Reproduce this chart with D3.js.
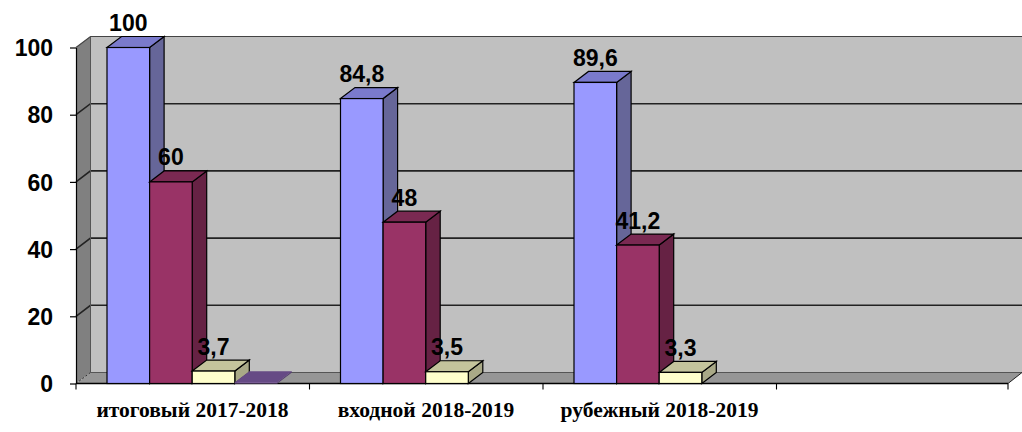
<!DOCTYPE html>
<html>
<head>
<meta charset="utf-8">
<script src="https://cdn.jsdelivr.net/npm/d3@7"></script>
<style>
  html, body { margin: 0; padding: 0; background: #fff; }
  svg { display: block; }
  .val { font: bold 23px "Liberation Sans", Arial, sans-serif; fill: #000; }
  .cat { font: bold 21.5px "Liberation Serif", "Times New Roman", serif; fill: #000; }
</style>
</head>
<body>
<div id="chart"></div>
<script>
const categories = ["итоговый 2017-2018", "входной 2018-2019", "рубежный 2018-2019", ""];
const seriesA = [100, 84.8, 89.6, null];
const seriesB = [60, 48, 41.2, null];
const seriesC = [3.7, 3.5, 3.3, null];
const seriesD = [0.4, null, null, null];
const yTicks = [0, 20, 40, 60, 80, 100];
const labelsA = ["100", "84,8", "89,6"];
const labelsB = ["60", "48", "41,2"];
const labelsC = ["3,7", "3,5", "3,3"];

const svgWidth = 1022, svgHeight = 432;
const plotLeft = 76, plotRight = 1008, plotTop = 47.5, plotBottom = 383.5;
const dx = 14.5, dy = -11; // 3d depth

const svg = d3.select("#chart").append("svg")
  .attr("width", svgWidth)
  .attr("height", svgHeight);

const x = d3.scaleBand().domain(d3.range(categories.length)).range([plotLeft, plotLeft + 934]);
const y = d3.scaleLinear().domain([0, 100]).range([plotBottom, plotTop]);
const sub = d3.scaleBand().domain(d3.range(4)).range([31, 31 + 4 * 42.6]);

const poly = (pts, fill, stroke, sw) => svg.append("polygon")
  .attr("points", pts.map(p => p.join(",")).join(" "))
  .attr("fill", fill)
  .attr("stroke", stroke || "none")
  .attr("stroke-width", sw || 0);

// walls and floor
poly([[plotLeft + dx, plotTop + dy], [svgWidth, plotTop + dy], [svgWidth, plotBottom + dy], [plotLeft + dx, plotBottom + dy]], "#c0c0c0");
poly([[plotLeft, plotTop], [plotLeft + dx, plotTop + dy], [plotLeft + dx, plotBottom + dy], [plotLeft, plotBottom]], "#808080");
poly([[plotLeft, plotBottom], [plotLeft + dx, plotBottom + dy], [svgWidth, plotBottom + dy], [plotRight, plotBottom]], "#969696");

// gridlines on the side and back walls
yTicks.forEach(t => {
  if (t === 0) return;
  svg.append("path")
    .attr("d", `M${plotLeft},${y(t)}L${plotLeft + dx},${y(t) + dy}L${svgWidth},${y(t) + dy}`)
    .attr("fill", "none")
    .attr("stroke", t === 100 ? "#444" : "#222")
    .attr("stroke-width", t === 100 ? 1.2 : 1.6);
});
svg.append("path")
  .attr("d", `M${plotLeft + dx},${plotTop + dy}V${plotBottom + dy}H${svgWidth}`)
  .attr("fill", "none").attr("stroke", "#555").attr("stroke-width", 1);
svg.append("path")
  .attr("d", `M${plotLeft},${plotBottom}L${plotLeft + dx},${plotBottom + dy}`)
  .attr("fill", "none").attr("stroke", "#333").attr("stroke-dasharray", "2,2");
svg.append("path")
  .attr("d", `M${plotRight},${plotBottom}L${svgWidth},${plotBottom + dy}`)
  .attr("fill", "none").attr("stroke", "#222");

// axes
const yAxis = svg.append("g")
  .attr("transform", `translate(${plotLeft},0)`)
  .call(d3.axisLeft(y).tickValues(yTicks).tickSize(6).tickSizeOuter(0).tickPadding(17));
yAxis.selectAll("text").attr("class", "val").attr("dy", "0.36em");
yAxis.selectAll("path, line").attr("stroke", "#000").attr("stroke-width", 1.2);

const xAxis = svg.append("g")
  .attr("transform", `translate(0,${plotBottom})`);
xAxis.append("line").attr("x1", plotLeft).attr("x2", plotRight).attr("stroke", "#000").attr("stroke-width", 1.4);
d3.range(categories.length + 1).forEach(i => {
  const tx = i < categories.length ? x(i) : plotRight;
  xAxis.append("line").attr("x1", tx).attr("x2", tx).attr("y1", 0).attr("y2", 6)
    .attr("stroke", "#000").attr("stroke-width", 1.1);
});
svg.selectAll("text.cat").data(categories).join("text")
  .attr("class", "cat")
  .attr("x", (d, i) => x(i) + 116.5)
  .attr("y", 417)
  .attr("text-anchor", "middle")
  .text(d => d);

// one box per value
function box(bx, w, v, front, topFace, side, stroke) {
  const yv = y(v);
  poly([[bx + w, yv], [bx + w + dx, yv + dy], [bx + w + dx, plotBottom + dy], [bx + w, plotBottom]], side, stroke, 1.2);
  poly([[bx, yv], [bx + dx, yv + dy], [bx + w + dx, yv + dy], [bx + w, yv]], topFace, stroke, 1.2);
  svg.append("rect").attr("x", bx).attr("y", yv).attr("width", w).attr("height", plotBottom - yv)
    .attr("fill", front).attr("stroke", stroke || "none").attr("stroke-width", stroke ? 1.2 : 0);
}

const series = [
  { values: seriesA, labels: labelsA, front: "#9999ff", top: "#7a7acc", side: "#666699", stroke: "#000" },
  { values: seriesB, labels: labelsB, front: "#993366", top: "#7a2952", side: "#662244", stroke: "#000" },
  { values: seriesC, labels: labelsC, front: "#ffffcc", top: "#c4c49c", side: "#a9a987", stroke: "#000" },
  { values: seriesD, labels: [], front: "#7a5a9a", top: "#664a85", side: "#553d70", stroke: null }
];

// later categories and series are in front only of the floor, so draw in order
categories.forEach((c, ci) => {
  series.forEach((s, si) => {
    const v = s.values[ci];
    if (v == null) return;
    box(x(ci) + sub(si), sub.bandwidth(), v, s.front, s.top, s.side, s.stroke);
  });
});

// value labels on top
categories.forEach((c, ci) => {
  series.forEach((s, si) => {
    const v = s.values[ci];
    if (v == null || !s.labels[ci]) return;
    svg.append("text")
      .attr("class", "val")
      .attr("x", x(ci) + sub(si) + sub.bandwidth() / 2)
      .attr("y", y(v) + dy - 5.5)
      .attr("text-anchor", "middle")
      .text(s.labels[ci]);
  });
});
</script>
</body>
</html>
